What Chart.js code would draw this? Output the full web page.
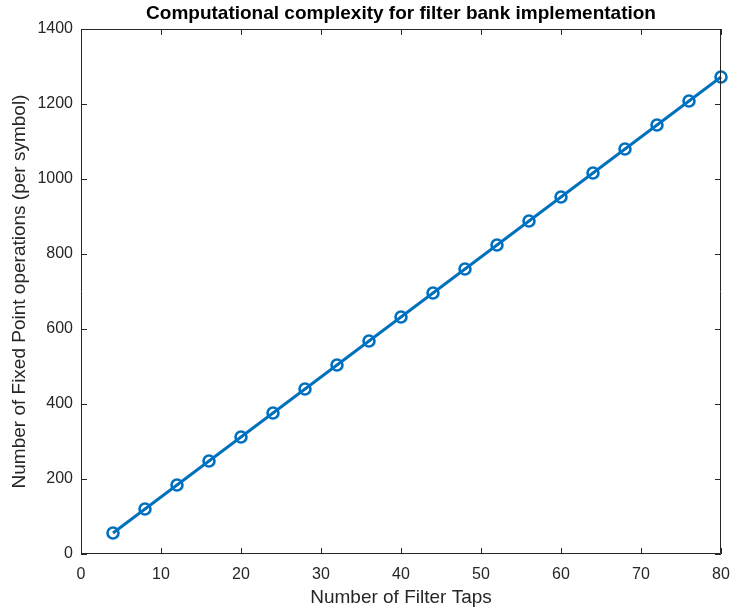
<!DOCTYPE html>
<html>
<head>
<meta charset="utf-8">
<script src="https://cdn.jsdelivr.net/npm/chart.js@4.4.1/dist/chart.umd.min.js"></script>
<style>
  html, body { margin: 0; padding: 0; background: #ffffff; }
  #wrap { width: 730px; height: 610px; }
</style>
</head>
<body>
<div id="wrap"><canvas id="c" width="730" height="610"></canvas></div>
<script>
// Filter taps and fixed point operations per symbol
const filterTaps = [4, 8, 12, 16, 20, 24, 28, 32, 36, 40, 44, 48, 52, 56, 60, 64, 68, 72, 76, 80];
const fixedPointOps = [56, 120, 184, 248, 312, 376, 440, 504, 568, 632, 696, 760, 824, 888, 952, 1016, 1080, 1144, 1208, 1272];
const xTicks = [0, 10, 20, 30, 40, 50, 60, 70, 80];
const yTicks = [0, 200, 400, 600, 800, 1000, 1200, 1400];

const AXIS_COLOR = '#262626';
const LINE_COLOR = '#0072BD';
const FONT = '"Liberation Sans", Arial, Helvetica, sans-serif';

// Box around the plot area with inward tick marks on all four sides
const boxAxes = {
  id: 'boxAxes',
  afterDatasetsDraw(chart) {
    const { ctx, chartArea: a, scales } = chart;
    const len = 6;
    ctx.save();
    ctx.strokeStyle = AXIS_COLOR;
    ctx.lineWidth = 1;
    ctx.beginPath();
    ctx.rect(Math.round(a.left) + 0.5, Math.round(a.top) + 0.5,
             Math.round(a.right - a.left) - 1, Math.round(a.bottom - a.top) - 1);
    scales.x.ticks.forEach(t => {
      const px = Math.round(scales.x.getPixelForValue(t.value)) + 0.5;
      ctx.moveTo(px, a.bottom); ctx.lineTo(px, a.bottom - len);
      ctx.moveTo(px, a.top); ctx.lineTo(px, a.top + len);
    });
    scales.y.ticks.forEach(t => {
      const py = Math.round(scales.y.getPixelForValue(t.value)) + 0.5;
      ctx.moveTo(a.left, py); ctx.lineTo(a.left + len, py);
      ctx.moveTo(a.right, py); ctx.lineTo(a.right - len, py);
    });
    ctx.stroke();
    ctx.restore();
  }
};

new Chart(document.getElementById('c'), {
  type: 'line',
  data: {
    datasets: [{
      data: filterTaps.map((x, i) => ({ x, y: fixedPointOps[i] })),
      borderColor: LINE_COLOR,
      borderWidth: 3,
      pointStyle: 'circle',
      pointRadius: 5.5,
      pointBorderWidth: 2.6,
      pointBorderColor: LINE_COLOR,
      pointBackgroundColor: 'rgba(0,0,0,0)',
      tension: 0,
      clip: false
    }]
  },
  options: {
    responsive: false,
    animation: false,
    devicePixelRatio: 1,
    layout: { padding: { left: 0, right: 9, top: 0, bottom: 0 } },
    plugins: {
      legend: { display: false },
      tooltip: { enabled: false },
      title: {
        display: true,
        fullSize: false,
        text: 'Computational complexity for filter bank implementation',
        color: '#000000',
        font: { family: FONT, size: 19, weight: 'bold' },
        padding: { top: 2, bottom: 4.2 }
      }
    },
    scales: {
      x: {
        type: 'linear',
        min: 0, max: 80,
        afterBuildTicks: s => { s.ticks = xTicks.map(v => ({ value: v })); },
        afterFit: s => { s.height = 56; s.paddingLeft = 0; s.paddingRight = 0; },
        grid: { drawOnChartArea: false, drawTicks: false },
        border: { display: false },
        ticks: {
          color: AXIS_COLOR, padding: 11, font: { family: FONT, size: 16 }, maxRotation: 0,
          callback: v => String(v)
        },
        title: {
          display: true, text: 'Number of Filter Taps', color: AXIS_COLOR,
          font: { family: FONT, size: 19 }, padding: { top: 0, bottom: 1 }
        }
      },
      y: {
        type: 'linear',
        min: 0, max: 1400,
        afterBuildTicks: s => { s.ticks = yTicks.map(v => ({ value: v })); },
        afterFit: s => { s.width = 81; },
        grid: { drawOnChartArea: false, drawTicks: false },
        border: { display: false },
        ticks: {
          color: AXIS_COLOR, padding: 8, font: { family: FONT, size: 16 },
          callback: v => String(v)
        },
        title: {
          display: true, text: 'Number of Fixed Point operations (per symbol)', color: AXIS_COLOR,
          font: { family: FONT, size: 19 }, padding: { top: 8, bottom: 0 }
        }
      }
    }
  },
  plugins: [boxAxes]
});
</script>
</body>
</html>
